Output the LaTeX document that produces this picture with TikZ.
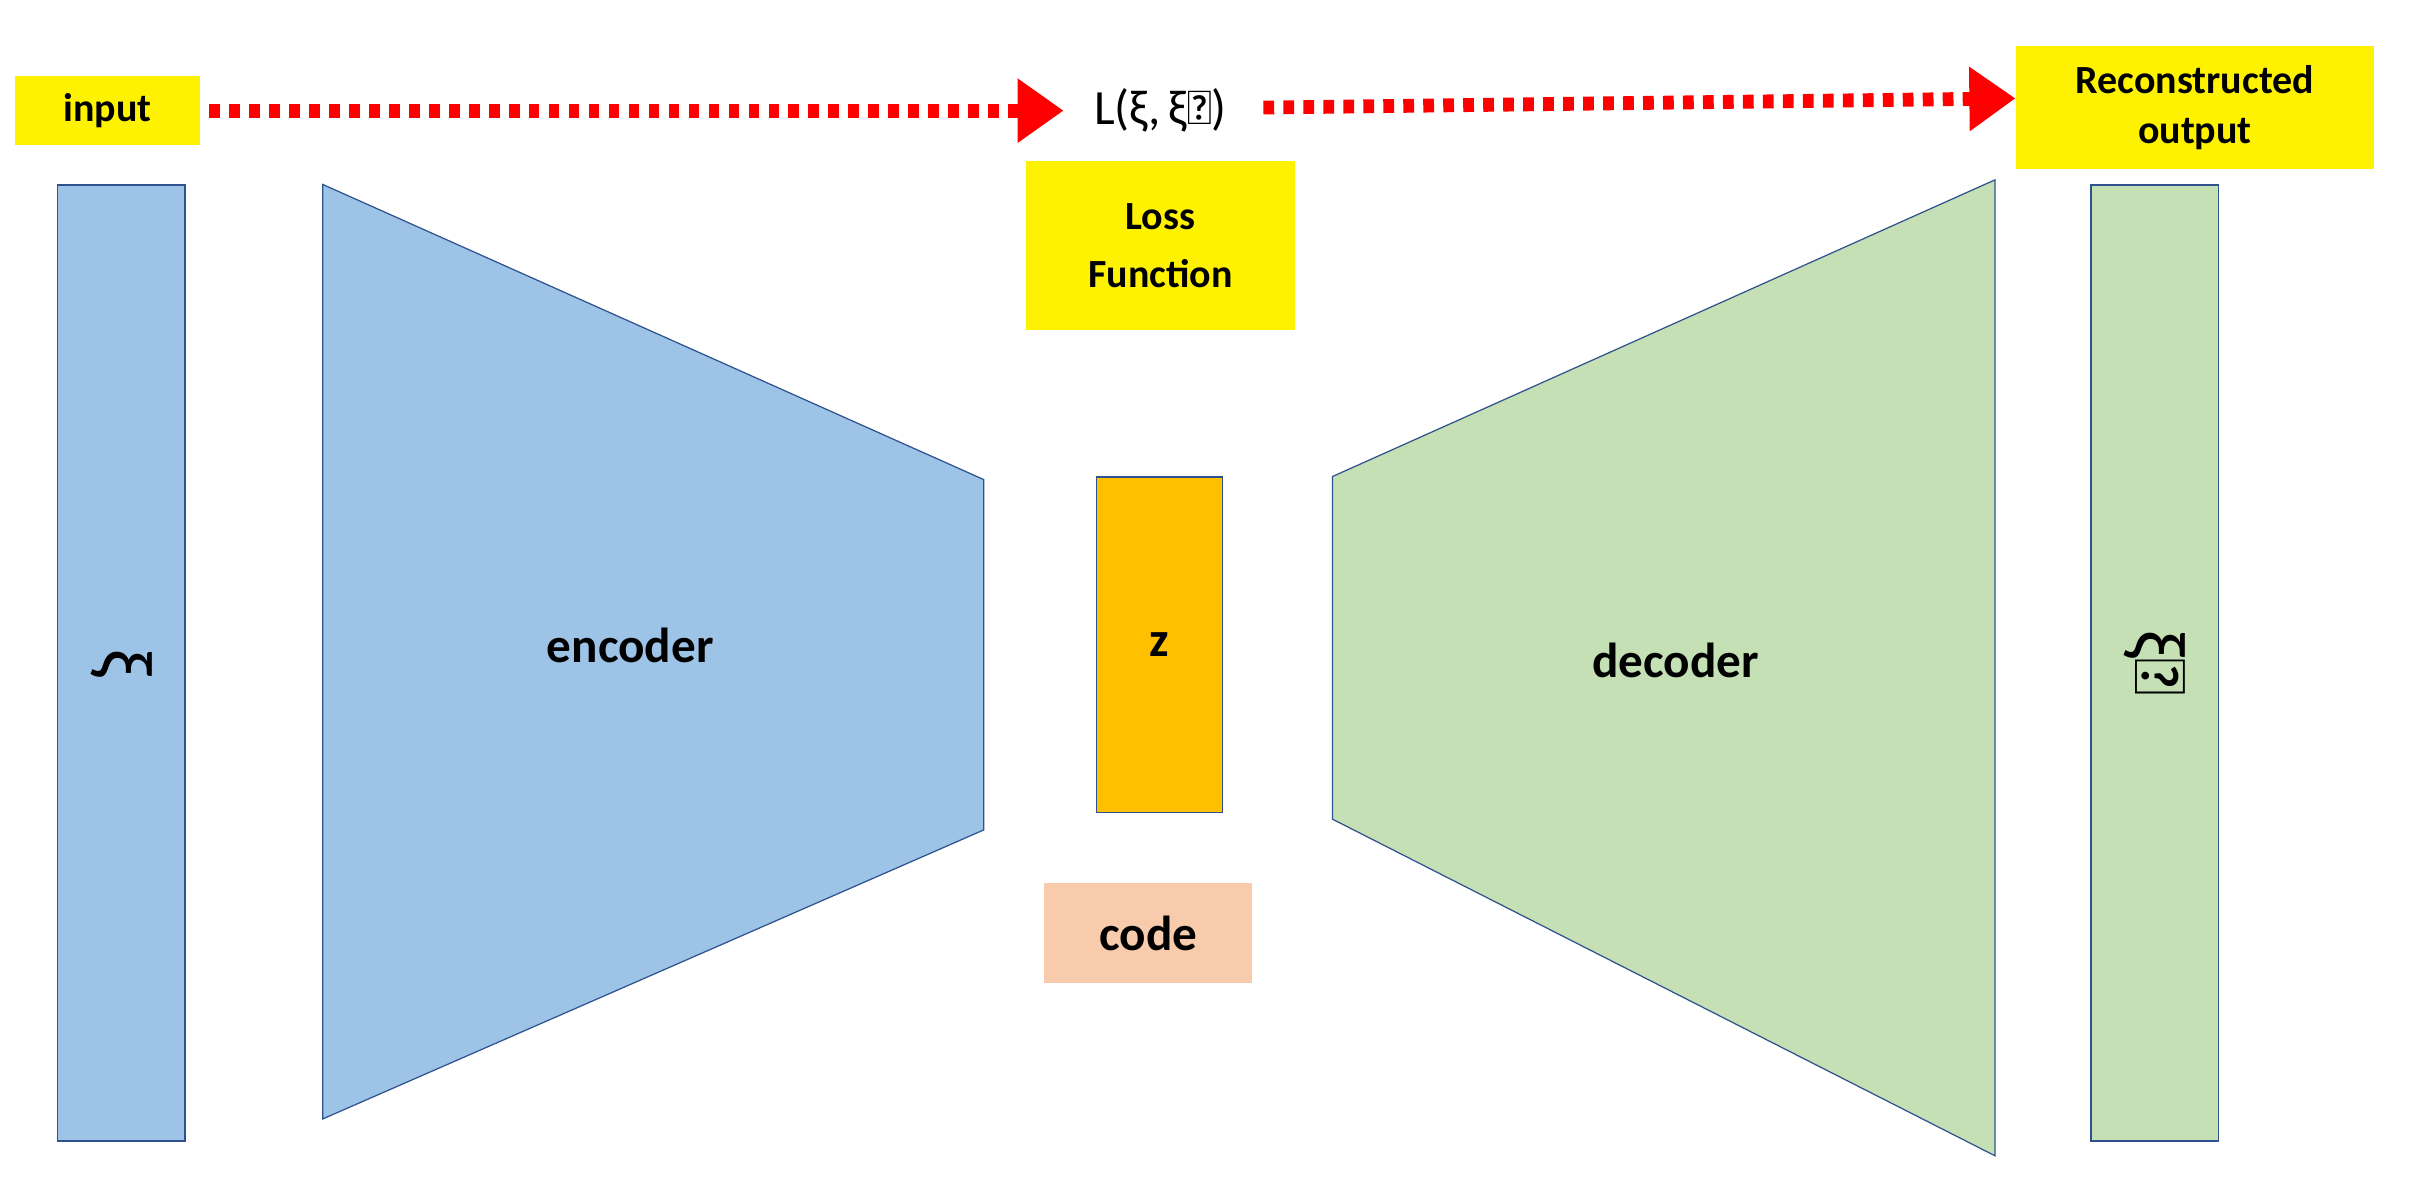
\documentclass[tikz,border=0pt]{standalone}
\usepackage{fontspec}
\setmainfont{Carlito}
\usetikzlibrary{arrows.meta}
\definecolor{encblue}{RGB}{157,195,230}
\definecolor{decgreen}{RGB}{197,224,180}
\definecolor{edge}{RGB}{47,82,143}
\definecolor{zor}{RGB}{255,192,0}
\definecolor{codec}{RGB}{248,203,173}
\begin{document}
\begin{tikzpicture}[x=1pt,y=-1pt,
  lbl/.style={fill=yellow,font=\fontsize{26}{30}\selectfont\bfseries,align=center,inner sep=0pt},
  big/.style={font=\fontsize{32}{36}\selectfont\bfseries},
  greek/.style={font=\fontsize{48}{52}\selectfont,rotate=-90,inner sep=0pt},
  flow/.style={red,line width=9pt,dash pattern=on 7pt off 6pt,-{Triangle[length=30pt,width=40pt]}},
  part/.style={draw=edge,line width=0.8pt}]
\useasboundingbox (0,0) rectangle (1568,770);
\node[lbl,minimum width=120,minimum height=45] (in) at (70,72) {input};
\node[lbl,minimum width=233,minimum height=80] (out) at (1428,70) {Reconstructed\\[2pt]output};
\node[lbl,minimum width=175,minimum height=110] (loss) at (755,160) {Loss\\[8pt]Function};
\node[font=\fontsize{32}{36}\selectfont,inner sep=0pt] (L) at (755,72) {L(ξ,\,\^{ξ})};
\coordinate (a0) at (136,72);
\coordinate (a1) at (692,72);
\draw[flow] (a0) -- (a1);
\coordinate (b0) at (822,70);
\draw[flow] (b0) -- (out.west |- 0,64);
\node[part,fill=encblue,minimum width=83,minimum height=622,anchor=north west] (xi) at (37,120) {};
\node[greek] at (xi.center) {ξ};
\draw[part,fill=encblue] (210,120) -- (640,312) -- (640,540) -- (210,728) -- cycle;
\node[big] (enc) at (410,420) {encoder};
\node[part,fill=zor,minimum width=82,minimum height=218,anchor=north west] (z) at (713,310) {};
\node[big] at (z.center) {z};
\node[fill=codec,minimum width=135,minimum height=65,big,inner sep=0pt] (code) at (747,607) {code};
\draw[part,fill=decgreen] (867,310) -- (1298,117) -- (1298,752) -- (867,533) -- cycle;
\node[big] (dec) at (1090,430) {decoder};
\node[part,fill=decgreen,minimum width=83,minimum height=622,anchor=north west] (xh) at (1360,120) {};
\node[greek] at (xh.center) {\^{ξ}};
\end{tikzpicture}
\end{document}
